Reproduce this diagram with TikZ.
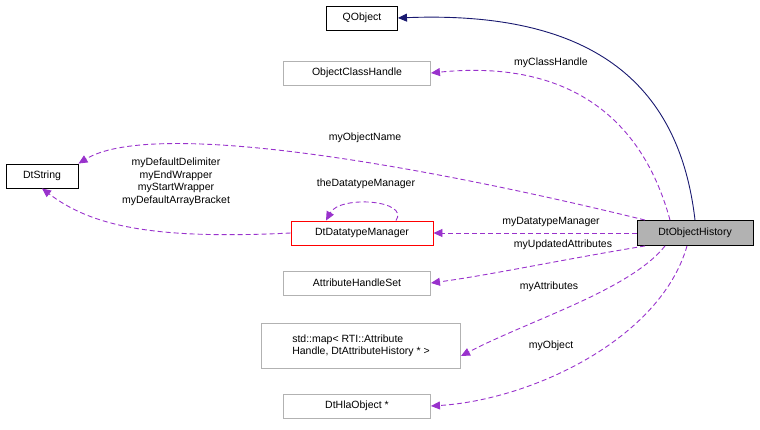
\documentclass[tikz,border=0pt]{standalone}
\usepackage{fontspec}
\setmainfont{Liberation Sans}
\usetikzlibrary{arrows.meta}
\definecolor{mypurple}{RGB}{153, 50, 204}
\definecolor{mynavy}{RGB}{25, 25, 112}
\begin{document}
\begin{tikzpicture}[x=1pt,y=-1pt,font=\fontsize{10.5}{12.5}\selectfont]

\tikzstyle{black_box} = [draw=black, fill=white, line width=0.9, minimum height=24, inner sep=3]
\tikzstyle{gray_box} = [draw=black!30, fill=white, line width=0.9, minimum height=24, inner sep=3]
\tikzstyle{red_box} = [draw=red, fill=white, line width=0.9, minimum height=24, inner sep=3]
\tikzstyle{main_box} = [draw=black, fill=black!30, line width=0.9, minimum height=25, inner sep=3]
\tikzstyle{use} = [draw=mypurple, dash pattern=on 5pt off 3pt, line width=0.9, -{Triangle[length=9,width=8]}]
\tikzstyle{inherit} = [draw=mynavy, line width=0.9, -{Triangle[length=9,width=8]}]

\useasboundingbox (0,0) rectangle (760,429);

\node [black_box, minimum width=71] (qobject) at (362,18) {QObject};
\node [gray_box, minimum width=147] (classhandle) at (357,73) {ObjectClassHandle};
\node [black_box, minimum width=72] (dtstring) at (42,176) {DtString};
\node [red_box, minimum width=142] (manager) at (362,233) {DtDatatypeManager};
\node [gray_box, minimum width=147] (handleset) at (357,283) {AttributeHandleSet};
\node [gray_box, minimum width=199, minimum height=45, align=left] (map) at (361,346)
  {std::map\textless{} RTI::Attribute\\Handle, DtAttributeHistory * \textgreater{}};
\node [gray_box, minimum width=147] (hlaobject) at (357,406) {DtHlaObject *};
\node [main_box, minimum width=116] (history) at (695,233) {DtObjectHistory};

% inheritance
\draw [inherit] (history.north) .. controls (680,90) and (600,10) .. (qobject.east);

% members
\draw [use] ([xshift=-25]history.north) .. controls (640,110) and (560,60) .. (classhandle.east);
\node at (551,63) {myClassHandle};

\draw [use] ([xshift=-50]history.north) .. controls (400,160) and (150,120) .. (dtstring.north east);
\node at (365,138) {myObjectName};

\draw [use] (manager.west) .. controls (150,240) and (90,225) .. (dtstring.south);
\node [align=center] at (176,182) {myDefaultDelimiter\\myEndWrapper\\myStartWrapper\\myDefaultArrayBracket};

\draw [use] ([xshift=34]manager.north) .. controls (410,200) and (340,195) .. ([xshift=-36]manager.north);
\node at (366,184) {theDatatypeManager};

\draw [use] (history.west) -- (manager.east);
\node at (551,222) {myDatatypeManager};

\draw [use] ([xshift=-50]history.south) .. controls (560,260) and (490,275) .. (handleset.east);
\node at (563,245) {myUpdatedAttributes};

\draw [use] ([xshift=-30]history.south) .. controls (630,290) and (530,320) .. ([yshift=-10]map.east);
\node at (549,287) {myAttributes};

\draw [use] ([xshift=-8]history.south) .. controls (660,340) and (530,400) .. (hlaobject.east);
\node at (551,346) {myObject};

\end{tikzpicture}
\end{document}
